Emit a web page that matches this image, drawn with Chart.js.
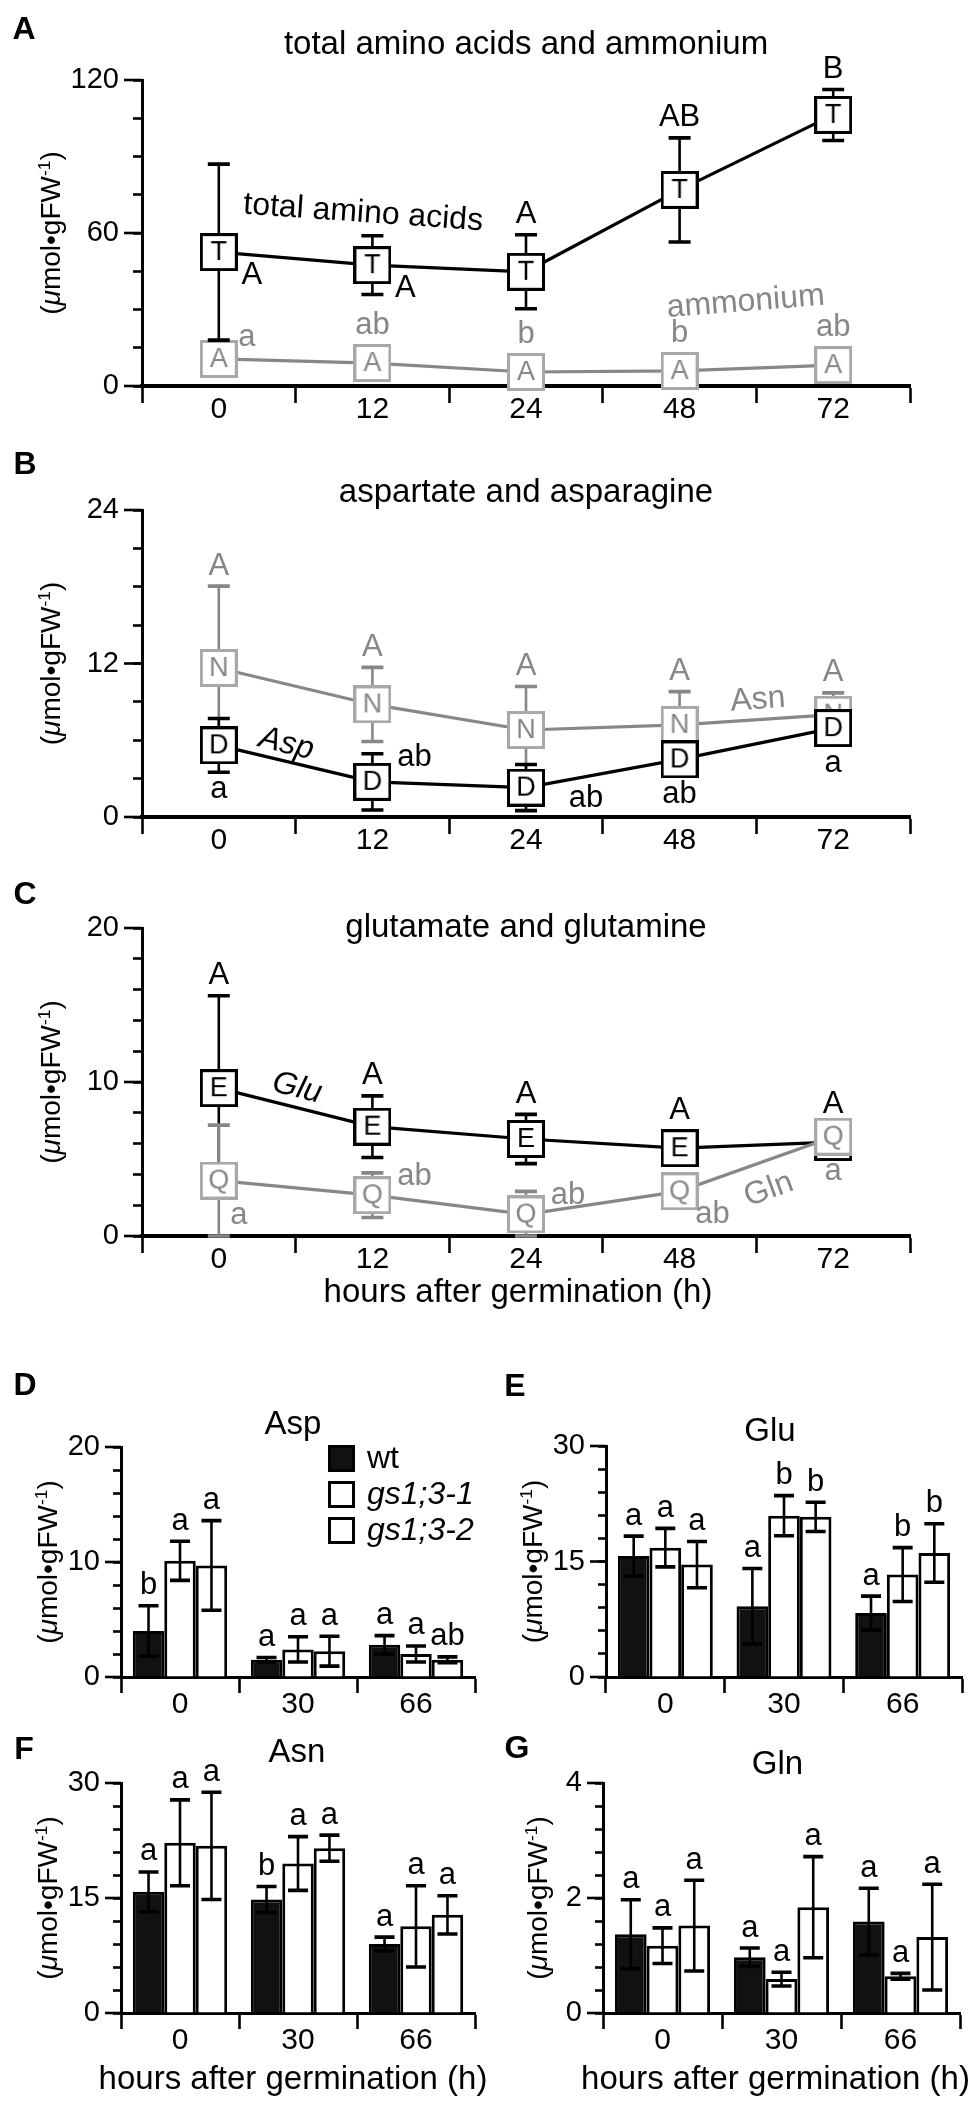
<!DOCTYPE html>
<html>
<head>
<meta charset="utf-8">
<script src="https://cdn.jsdelivr.net/npm/chart.js@4.4.0/dist/chart.umd.min.js"></script>
<style>
  body { margin: 0; background: #fff; width: 975px; height: 2104px; position: relative; overflow: hidden; }
  canvas { position: absolute; }
</style>
</head>
<body>
<canvas id="cA" width="975" height="440" style="left:0;top:0"></canvas>
<canvas id="cB" width="975" height="440" style="left:0;top:440px"></canvas>
<canvas id="cC" width="975" height="450" style="left:0;top:880px"></canvas>
<canvas id="cD" width="487" height="360" style="left:0;top:1370px"></canvas>
<canvas id="cE" width="488" height="360" style="left:487px;top:1370px"></canvas>
<canvas id="cF" width="487" height="374" style="left:0;top:1730px"></canvas>
<canvas id="cG" width="488" height="374" style="left:487px;top:1730px"></canvas>
<script>
// ---- data: panels A-C (time course) ----
const lineHours = ['0', '12', '24', '48', '72'];

const totalAA = [52.5, 47.4, 44.8, 76.9, 106.3];
const totalAAErr = [34.5, 11.5, 14.5, 20.4, 10.0];
const totalAALetters = ['A', 'A', 'A', 'AB', 'B'];
const ammonium = [10.6, 9.0, 5.5, 5.9, 8.2];
const ammoniumErr = [1.5, 1.5, 1.0, 1.0, 1.5];
const ammoniumLetters = ['a', 'ab', 'b', 'b', 'ab'];

const asp = [5.6, 2.75, 2.3, 4.5, 6.95];
const aspErr = [2.1, 2.2, 1.8, 0.4, 0.4];
const aspLetters = ['a', 'ab', 'ab', 'ab', 'a'];
const asn = [11.65, 8.8, 6.8, 7.2, 8.0];
const asnErr = [6.4, 2.9, 3.4, 2.6, 1.7];
const asnLetters = ['A', 'A', 'A', 'A', 'A'];

const glu = [9.6, 7.1, 6.3, 5.7, 6.1];
const gluErr = [6.0, 2.0, 1.6, 0.4, 0.4];
const gluLetters = ['A', 'A', 'A', 'A', 'A'];
const gln = [3.6, 2.65, 1.4, 2.9, 6.45];
const glnErr = [3.6, 1.45, 1.5, 0.3, 0.4];
const glnLetters = ['a', 'ab', 'ab', 'ab', 'a'];

// ---- data: panels D-G (wt vs mutants) ----
const barHours = ['0', '30', '66'];
const genotypes = ['wt', 'gs1;3-1', 'gs1;3-2'];

const aspWt = [4.0, 1.5, 2.8],    aspWtErr = [2.2, 0.2, 0.8],    aspWtLet = ['b', 'a', 'a'];
const aspGs1 = [10.1, 2.4, 2.0],  aspGs1Err = [1.7, 1.1, 0.7],   aspGs1Let = ['a', 'a', 'a'];
const aspGs2 = [9.7, 2.25, 1.5],  aspGs2Err = [3.9, 1.3, 0.25],  aspGs2Let = ['a', 'a', 'ab'];

const gluWt = [15.7, 9.2, 8.3],    gluWtErr = [2.6, 4.9, 2.2],   gluWtLet = ['a', 'a', 'a'];
const gluGs1 = [16.8, 20.95, 13.3], gluGs1Err = [2.5, 2.6, 3.5], gluGs1Let = ['a', 'b', 'b'];
const gluGs2 = [14.6, 20.8, 16.1], gluGs2Err = [3.0, 1.9, 3.8],  gluGs2Let = ['a', 'b', 'b'];

const asnWt = [15.8, 14.8, 9.0],   asnWtErr = [2.6, 1.7, 0.9],   asnWtLet = ['a', 'b', 'a'];
const asnGs1 = [22.2, 19.5, 11.3], asnGs1Err = [5.6, 3.5, 5.3],  asnGs1Let = ['a', 'a', 'a'];
const asnGs2 = [21.8, 21.5, 12.8], asnGs2Err = [7.0, 1.7, 2.5],  asnGs2Let = ['a', 'a', 'a'];

const glnWt = [1.37, 0.97, 1.59],  glnWtErr = [0.6, 0.16, 0.58], glnWtLet = ['a', 'a', 'a'];
const glnGs1 = [1.17, 0.59, 0.64], glnGs1Err = [0.31, 0.12, 0.05], glnGs1Let = ['a', 'a', 'a'];
const glnGs2 = [1.52, 1.84, 1.32], glnGs2Err = [0.79, 0.88, 0.92], glnGs2Let = ['a', 'a', 'a'];

// ---- styling ----
const FONT = '"Liberation Sans", Arial, Helvetica, sans-serif';
const GRAY = '#878787';
const GRAY_BOX = '#a8a8a8';

// where the significance letters sit around each point
const totalAAPlace = ['lowerRight', 'lowerRight', 'above', 'above', 'above'];
const ammoniumPlace = ['upperRight', 'above', 'above', 'above', 'above'];
const aspPlace = ['below', 'right', 'farRight', 'below', 'below'];
const glnPlace = ['belowRight', 'right', 'right', 'lowerRight', 'below'];

function makeMarker(letter, dark) {
    let c = document.createElement('canvas');
    c.width = 38;
    c.height = 38;
    let g = c.getContext('2d');
    g.fillStyle = '#fff';
    g.fillRect(1.5, 1.5, 35, 35);
    g.lineWidth = 3;
    g.strokeStyle = dark ? '#000' : GRAY_BOX;
    g.strokeRect(1.5, 1.5, 35, 35);
    g.fillStyle = dark ? '#000' : GRAY;
    g.font = '27px ' + FONT;
    g.textAlign = 'center';
    g.textBaseline = 'middle';
    g.fillText(letter, 19, 20);
    return c;
}

function isMajor(v, major) {
    return Math.abs(v / major - Math.round(v / major)) < 1e-6;
}

function drawErr(chart, di) {
    let ds = chart.data.datasets[di];
    if (!ds.errors) return;
    let meta = chart.getDatasetMeta(di);
    let y = chart.scales.y;
    let ctx = chart.ctx;
    let cap = chart.config.type === 'line' ? 11 : 10;
    ctx.save();
    ctx.strokeStyle = ds.errColor || '#000';
    ds.data.forEach((v, i) => {
        let e = ds.errors[i];
        let x = meta.data[i].x;
        let top = y.getPixelForValue(v + e);
        let bot = y.getPixelForValue(Math.max(v - e, 0));
        ctx.lineWidth = 2.6;
        ctx.beginPath();
        ctx.moveTo(x, top);
        ctx.lineTo(x, bot);
        ctx.stroke();
        ctx.lineWidth = 3.6;
        ctx.beginPath();
        ctx.moveTo(x - cap, top);
        ctx.lineTo(x + cap, top);
        ctx.moveTo(x - cap, bot);
        ctx.lineTo(x + cap, bot);
        ctx.stroke();
    });
    ctx.restore();
}

const errorBars = {
    id: 'errorBars',
    beforeDatasetDraw(chart, args) {
        if (chart.config.type === 'line') drawErr(chart, args.index);
    },
    afterDatasetsDraw(chart) {
        if (chart.config.type === 'bar') chart.data.datasets.forEach((d, i) => drawErr(chart, i));
    }
};

const sigLetters = {
    id: 'sigLetters',
    afterDatasetsDraw(chart) {
        let ctx = chart.ctx;
        let y = chart.scales.y;
        let half = chart.config.type === 'line' ? 18 : 0;
        chart.data.datasets.forEach((ds, di) => {
            if (!ds.letters) return;
            let meta = chart.getDatasetMeta(di);
            ctx.save();
            ctx.fillStyle = ds.letterColor || '#000';
            ctx.font = '31px ' + FONT;
            ctx.textAlign = 'center';
            ctx.textBaseline = 'middle';
            ds.data.forEach((v, i) => {
                let p = meta.data[i];
                let e = ds.errors[i];
                let top = y.getPixelForValue(v + e);
                let bot = y.getPixelForValue(Math.max(v - e, 0));
                let place = ds.letterPlace ? ds.letterPlace[i] : 'above';
                let lx = p.x, ly;
                if (place === 'above') ly = Math.min(top, p.y - half) - 20;
                else if (place === 'below') ly = Math.max(bot, p.y + half) + 17;
                else if (place === 'belowRight') { lx += 20; ly = p.y + half + 17; }
                else if (place === 'right') { lx += 42; ly = top + 4; }
                else if (place === 'farRight') { lx += 60; ly = p.y + 11; }
                else if (place === 'lowerRight') { lx += 33; ly = p.y + 23; }
                else { lx += 28; ly = p.y - 22; }
                ctx.fillText(ds.letters[i], lx, ly);
            });
            ctx.restore();
        });
    }
};

function drawYTitle(ctx, cx, cy, size) {
    let parts = [
        ['(', '', 1, 0], ['\u03bc', 'italic ', 1, 0], ['mol\u2022gFW', '', 1, 0],
        ['-1', '', 0.62, -0.36], [')', '', 1, 0]
    ];
    ctx.save();
    ctx.translate(cx, cy);
    ctx.rotate(-Math.PI / 2);
    ctx.fillStyle = '#000';
    ctx.textBaseline = 'alphabetic';
    ctx.textAlign = 'left';
    let total = 0;
    parts.forEach(p => {
        ctx.font = p[1] + (size * p[2]) + 'px ' + FONT;
        p.w = ctx.measureText(p[0]).width;
        total += p.w;
    });
    let x = -total / 2;
    parts.forEach(p => {
        ctx.font = p[1] + (size * p[2]) + 'px ' + FONT;
        ctx.fillText(p[0], x, size * 0.36 + p[3] * size);
        x += p.w;
    });
    ctx.restore();
}

const panelDeco = {
    id: 'panelDeco',
    afterDraw(chart, args, o) {
        let ctx = chart.ctx;
        let a = chart.chartArea;
        let xs = chart.scales.x, ys = chart.scales.y;
        let mid = (a.left + a.right) / 2;
        ctx.save();
        ctx.fillStyle = '#000';
        ctx.textAlign = 'center';
        ctx.textBaseline = 'middle';
        // panel letter
        ctx.font = 'bold 32px ' + FONT;
        ctx.fillText(o.letter, o.letterX, o.letterY);
        // title
        ctx.font = '33px ' + FONT;
        ctx.fillText(o.title, mid + o.titleDx, a.top + o.titleDy);
        // x title
        if (o.xTitle) ctx.fillText('hours after germination (h)', mid + o.xTitleDx, a.bottom + o.xTitleDy);
        // longer major ticks on y
        ctx.strokeStyle = '#000';
        ctx.lineWidth = 2.6;
        ys.ticks.forEach(t => {
            if (!isMajor(t.value, o.major)) return;
            let py = ys.getPixelForValue(t.value);
            ctx.beginPath();
            ctx.moveTo(a.left - o.majorLen, py);
            ctx.lineTo(a.left, py);
            ctx.stroke();
        });
        // series names
        (o.notes || []).forEach(n => {
            ctx.save();
            ctx.translate(xs.getPixelForValue(n.i), ys.getPixelForValue(n.v));
            ctx.rotate(n.angle * Math.PI / 180);
            ctx.fillStyle = n.color;
            ctx.font = (n.italic ? 'italic ' : '') + '32px ' + FONT;
            ctx.fillText(n.text, 0, 0);
            ctx.restore();
        });
        // legend
        if (o.legend) {
            let L = o.legend;
            chart.data.datasets.forEach((ds, i) => {
                let top = L.y + i * L.gap;
                ctx.fillStyle = ds.backgroundColor;
                ctx.fillRect(L.x, top, L.size, L.size);
                ctx.lineWidth = 3;
                ctx.strokeStyle = '#000';
                ctx.strokeRect(L.x + 1.5, top + 1.5, L.size - 3, L.size - 3);
                ctx.fillStyle = '#000';
                ctx.textAlign = 'left';
                ctx.font = (i > 0 ? 'italic ' : '') + '32px ' + FONT;
                ctx.fillText(ds.label, L.x + L.size + 12, top + L.size / 2 + 1);
            });
        }
        ctx.restore();
        drawYTitle(ctx, o.yTitleX, (a.top + a.bottom) / 2, 28);
    }
};

function axes(cfg) {
    return {
        x: {
            type: 'category',
            offset: true,
            afterFit: s => { s.height = cfg.xH; },
            grid: { offset: true, drawOnChartArea: false, tickLength: cfg.xTick, tickWidth: 2.6, tickColor: '#000' },
            border: { color: '#000', width: cfg.xBorder },
            ticks: { color: '#000', font: { family: FONT, size: 30, lineHeight: 1 }, padding: cfg.xPad, maxRotation: 0 }
        },
        y: {
            min: 0,
            max: cfg.max,
            afterFit: s => { s.width = cfg.yW; },
            grid: { drawOnChartArea: false, tickLength: cfg.minorLen, tickWidth: 2.6, tickColor: '#000' },
            border: { color: '#000', width: 3 },
            ticks: {
                stepSize: cfg.step,
                autoSkip: false,
                color: '#000',
                font: { family: FONT, size: 29, lineHeight: 1 },
                padding: cfg.deco.majorLen - cfg.minorLen + 5,
                callback: v => isMajor(v, cfg.deco.major) ? String(Math.round(v)) : ''
            }
        }
    };
}

function lineChart(id, datasets, cfg) {
    cfg.xTick = 17; cfg.xBorder = 4; cfg.xPad = -8; cfg.minorLen = 9;
    cfg.deco.majorLen = 18;
    return new Chart(document.getElementById(id), {
        type: 'line',
        data: { labels: lineHours, datasets: datasets },
        options: {
            responsive: false,
            animation: false,
            layout: { padding: { top: cfg.top, right: cfg.right, left: 0, bottom: 0 } },
            plugins: { legend: { display: false }, tooltip: { enabled: false }, panelDeco: cfg.deco },
            scales: axes(cfg)
        },
        plugins: [errorBars, sigLetters, panelDeco]
    });
}

function lineSet(label, data, errors, letters, place, letter, dark) {
    return {
        label: label,
        data: data,
        errors: errors,
        letters: letters,
        letterPlace: place,
        letterColor: dark ? '#000' : GRAY,
        errColor: dark ? '#000' : GRAY,
        borderColor: dark ? '#000' : GRAY,
        borderWidth: 3.2,
        tension: 0,
        fill: false,
        clip: false,
        pointRadius: 18,
        pointStyle: makeMarker(letter, dark)
    };
}

function barChart(id, sets, cfg) {
    cfg.xTick = 16; cfg.xBorder = 3; cfg.xPad = -3; cfg.minorLen = 8;
    cfg.deco.majorLen = 16;
    let fills = ['#111', '#fff', '#fff'];
    let datasets = sets.map((s, i) => ({
        label: genotypes[i],
        data: s[0],
        errors: s[1],
        letters: s[2],
        backgroundColor: fills[i],
        borderColor: '#000',
        borderWidth: 3,
        categoryPercentage: 0.8,
        barPercentage: 1.0
    }));
    return new Chart(document.getElementById(id), {
        type: 'bar',
        data: { labels: barHours, datasets: datasets },
        options: {
            responsive: false,
            animation: false,
            layout: { padding: { top: cfg.top, right: cfg.right, left: 0, bottom: 0 } },
            plugins: { legend: { display: false }, tooltip: { enabled: false }, panelDeco: cfg.deco },
            scales: axes(cfg)
        },
        plugins: [errorBars, sigLetters, panelDeco]
    });
}

// A
lineChart('cA', [
    lineSet('total amino acids', totalAA, totalAAErr, totalAALetters, totalAAPlace, 'T', true),
    lineSet('ammonium', ammonium, ammoniumErr, ammoniumLetters, ammoniumPlace, 'A', false)
], {
    top: 80, right: 65, yW: 142, xH: 54, max: 120, step: 15,
    deco: {
        letter: 'A', letterX: 24, letterY: 30, title: 'total amino acids and ammonium', titleDx: 0, titleDy: -35,
        yTitleX: 50, major: 60,
        notes: [
            { text: 'total amino acids', i: 0.94, v: 67.8, angle: 4, color: '#000' },
            { text: 'ammonium', i: 3.43, v: 32.9, angle: -4.5, color: GRAY }
        ]
    }
});

// B
lineChart('cB', [
    lineSet('Asp', asp, aspErr, aspLetters, aspPlace, 'D', true),
    lineSet('Asn', asn, asnErr, asnLetters, null, 'N', false)
], {
    top: 70, right: 65, yW: 142, xH: 63, max: 24, step: 3,
    deco: {
        letter: 'B', letterX: 25, letterY: 25, title: 'aspartate and asparagine', titleDx: 0, titleDy: -17,
        yTitleX: 50, major: 12,
        notes: [
            { text: 'Asp', i: 0.44, v: 5.7, angle: 14, color: '#000', italic: true },
            { text: 'Asn', i: 3.51, v: 9.15, angle: -4, color: GRAY }
        ]
    }
});

// C
lineChart('cC', [
    lineSet('Gln', gln, glnErr, glnLetters, glnPlace, 'Q', false),
    lineSet('Glu', glu, gluErr, gluLetters, null, 'E', true)
], {
    top: 48, right: 65, yW: 142, xH: 94, max: 20, step: 2,
    deco: {
        letter: 'C', letterX: 25, letterY: 15, title: 'glutamate and glutamine', titleDx: 0, titleDy: 0,
        yTitleX: 50, major: 10, xTitle: true, xTitleDx: -8, xTitleDy: 57,
        notes: [
            { text: 'Glu', i: 0.51, v: 9.6, angle: 14, color: '#000', italic: true },
            { text: 'Gln', i: 3.58, v: 3.0, angle: -20, color: GRAY }
        ]
    }
});

// D
barChart('cD', [[aspWt, aspWtErr, aspWtLet], [aspGs1, aspGs1Err, aspGs1Let], [aspGs2, aspGs2Err, aspGs2Let]], {
    top: 77, right: 12, yW: 121, xH: 53, max: 20, step: 2,
    deco: {
        letter: 'D', letterX: 25, letterY: 16, title: 'Asp', titleDx: -5, titleDy: -22, yTitleX: 47, major: 10,
        legend: { x: 328, y: 75, size: 27, gap: 36 }
    }
});

// E
barChart('cE', [[gluWt, gluWtErr, gluWtLet], [gluGs1, gluGs1Err, gluGs1Let], [gluGs2, gluGs2Err, gluGs2Let]], {
    top: 76, right: 13, yW: 119, xH: 53, max: 30, step: 3,
    deco: { letter: 'E', letterX: 28, letterY: 17, title: 'Glu', titleDx: -14, titleDy: -14, yTitleX: 45, major: 15 }
});

// F
barChart('cF', [[asnWt, asnWtErr, asnWtLet], [asnGs1, asnGs1Err, asnGs1Let], [asnGs2, asnGs2Err, asnGs2Let]], {
    top: 53, right: 12, yW: 121, xH: 91, max: 30, step: 3,
    deco: {
        letter: 'F', letterX: 24, letterY: 20, title: 'Asn', titleDx: -1, titleDy: -30, yTitleX: 47, major: 15,
        xTitle: true, xTitleDx: -5, xTitleDy: 67
    }
});

// G
barChart('cG', [[glnWt, glnWtErr, glnWtLet], [glnGs1, glnGs1Err, glnGs1Let], [glnGs2, glnGs2Err, glnGs2Let]], {
    top: 53, right: 15, yW: 116, xH: 91, max: 4, step: 0.4,
    deco: {
        letter: 'G', letterX: 30, letterY: 19, title: 'Gln', titleDx: -4, titleDy: -18, yTitleX: 50, major: 2,
        xTitle: true, xTitleDx: -6, xTitleDy: 67
    }
});
</script>
</body>
</html>
